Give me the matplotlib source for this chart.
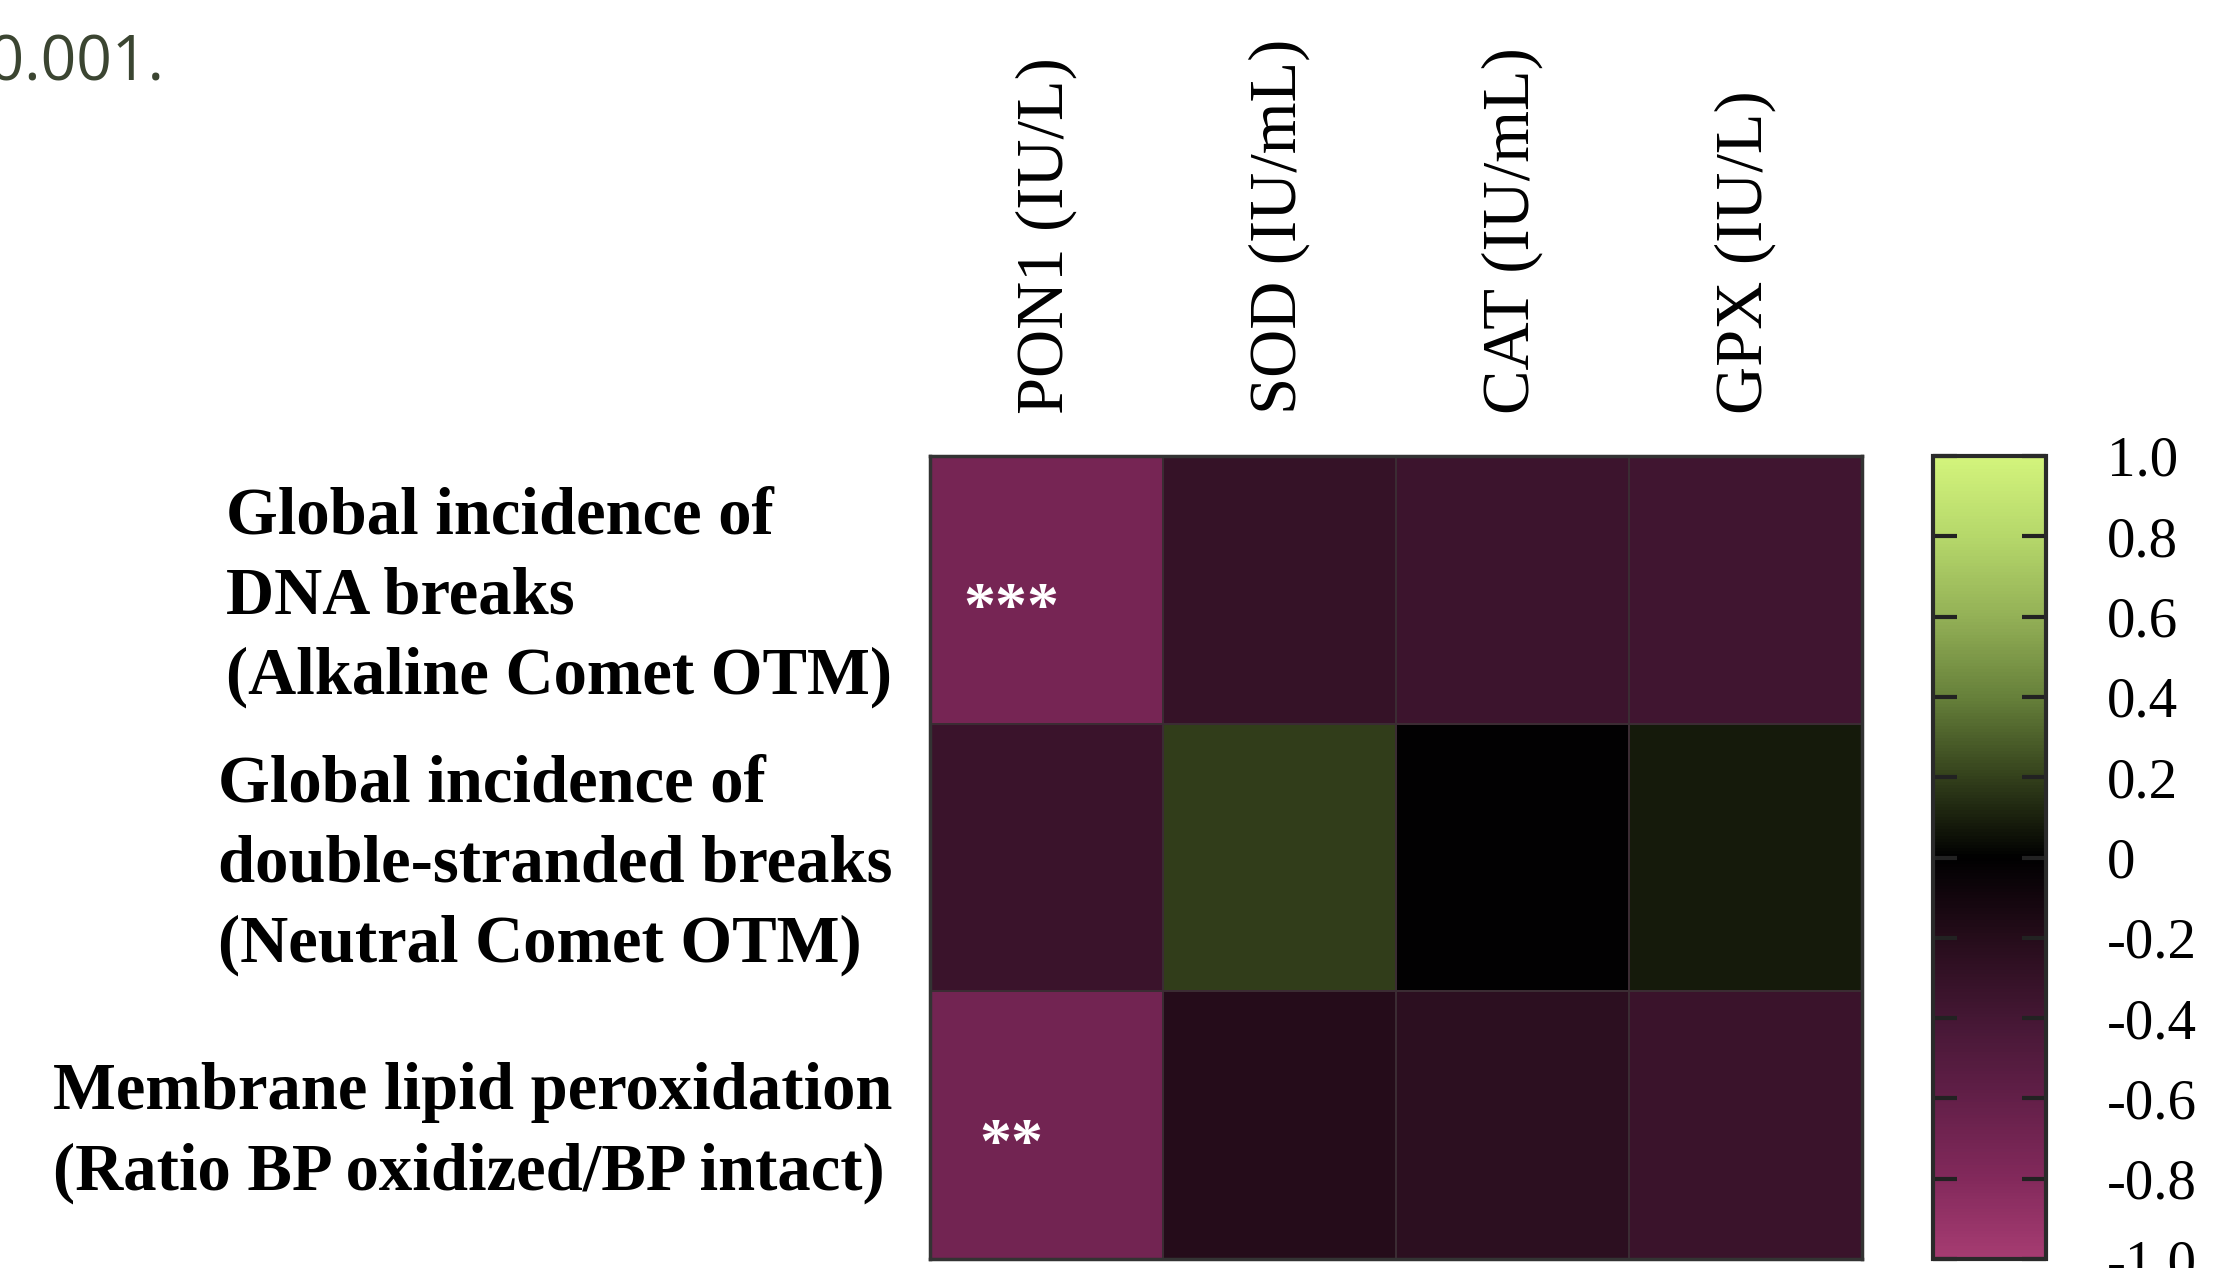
import numpy as np
import matplotlib
matplotlib.use("Agg")
import matplotlib.pyplot as plt
import matplotlib.transforms as mtransforms
from matplotlib.colors import LinearSegmentedColormap

plt.rcParams['axes.unicode_minus'] = False

# ---- data ----
columns = ["PON1 (IU/L)", "SOD (IU/mL)", "CAT (IU/mL)", "GPX (IU/L)"]
rows = ["Global incidence of\nDNA breaks\n(Alkaline Comet OTM)",
        "Global incidence of\ndouble-stranded breaks\n(Neutral Comet OTM)",
        "Membrane lipid peroxidation\n(Ratio BP oxidized/BP intact)"]
corr_row1 = [-0.72, -0.30, -0.35, -0.37]
corr_row2 = [-0.33, 0.19, -0.01, 0.08]
corr_row3 = [-0.70, -0.20, -0.25, -0.33]
signif_row1 = ["***", "", "", ""]
signif_row2 = ["", "", "", ""]
signif_row3 = ["**", "", "", ""]
cbar_ticks = [-1.0, -0.8, -0.6, -0.4, -0.2, 0.0, 0.2, 0.4, 0.6, 0.8, 1.0]
cbar_labels = ["-1.0", "-0.8", "-0.6", "-0.4", "-0.2", "0", "0.2", "0.4", "0.6", "0.8", "1.0"]

values = np.array([corr_row1, corr_row2, corr_row3])
signif = [signif_row1, signif_row2, signif_row3]

# custom diverging colormap: magenta - black - lime
cmap = LinearSegmentedColormap.from_list("pinkblackgreen", [
    (0.00, "#A63C72"),
    (0.10, "#82295B"),
    (0.20, "#621F48"),
    (0.30, "#441734"),
    (0.40, "#250C1A"),
    (0.50, "#000000"),
    (0.60, "#33401B"),
    (0.70, "#66803A"),
    (0.80, "#93B056"),
    (0.90, "#B5D76A"),
    (1.00, "#D3F47C"),
])

W, H = 2219, 1268
fig = plt.figure(figsize=(W / 100, H / 100), dpi=100)
fig.patch.set_facecolor("white")

serif = ["Liberation Serif", "DejaVu Serif"]

# heatmap axes
ax = fig.add_axes([930 / W, 1 - 1259 / H, 932 / W, 803 / H])
mesh = ax.pcolormesh(values, cmap=cmap, vmin=-1, vmax=1,
                     edgecolors="#3b2c33", linewidth=1.2)
ax.set_xlim(0, values.shape[1])
ax.set_ylim(values.shape[0], 0)
for sp in ax.spines.values():
    sp.set_color("#333333")
    sp.set_linewidth(2.5)

ax.xaxis.tick_top()
ax.set_xticks(np.arange(values.shape[1]) + 0.5)
ax.set_xticklabels(columns, rotation=90, fontsize=48, family=serif)
ax.set_yticks(np.arange(values.shape[0]) + 0.5)
ax.set_yticklabels(rows, fontsize=48, family=serif, fontweight="bold",
                   multialignment="left", linespacing=1.4)
ax.tick_params(axis="x", length=0, pad=30)
ax.tick_params(axis="y", length=0, pad=27)
shift_up = mtransforms.ScaledTranslation(0, 0.09, fig.dpi_scale_trans)
for lbl in ax.get_yticklabels():
    lbl.set_transform(lbl.get_transform() + shift_up)

for i in range(values.shape[0]):
    for j in range(values.shape[1]):
        s = signif[i][j]
        if s:
            ax.text(j + 0.35, i + 0.58, s, ha="center", va="center",
                    color="white", fontsize=46, fontweight="bold", family=serif)

# colorbar
cax = fig.add_axes([1933 / W, 1 - 1259 / H, 113 / W, 803 / H])
cb = fig.colorbar(mesh, cax=cax, ticks=cbar_ticks)
cb.ax.set_yticklabels(cbar_labels, fontsize=41, family=serif)
cb.outline.set_edgecolor("#2a2a2a")
cb.outline.set_linewidth(3)
cax.tick_params(axis="y", direction="in", length=17, width=3, color="#222222",
                left=True, right=True, labelleft=False, labelright=True, pad=44)

# fragment of surrounding caption text
fig.text(164 / W, 1 - 64 / H, "p < 0.001.", ha="right", va="center",
         fontsize=45, color="#3b4531", family=["Open Sans", "DejaVu Sans"])

fig.savefig("out.png", dpi=100)
